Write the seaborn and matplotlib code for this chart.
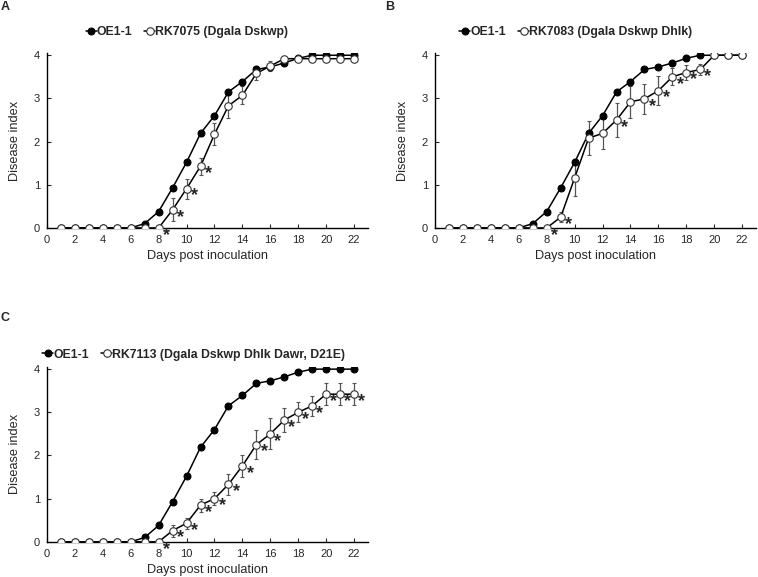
import numpy as np
import pandas as pd
import matplotlib
matplotlib.use("Agg")
import matplotlib.pyplot as plt
import seaborn as sns


DAYS = list(range(1, 23))

# OE1-1 (wild type), same in all three panels
OE_MEAN = [0, 0, 0, 0, 0, 0, 0.10, 0.38, 0.93, 1.52, 2.19, 2.60, 3.15, 3.39,
           3.67, 3.73, 3.82, 3.93, 4.0, 4.0, 4.0, 4.0]
OE_ERR = [0, 0, 0, 0, 0, 0, 0.03, 0.05, 0.04, 0.05, 0.06, 0.06, 0.05, 0.06,
          0.05, 0.04, 0.04, 0.03, 0, 0, 0, 0]

# panel A: RK7075
A_LABEL = "RK7075 (Dgala Dskwp)"
A_MEAN = [0, 0, 0, 0, 0, 0, 0, 0, 0.42, 0.91, 1.43, 2.17, 2.83, 3.07,
          3.58, 3.75, 3.92, 3.92, 3.92, 3.92, 3.92, 3.92]
A_ERR = [0, 0, 0, 0, 0, 0, 0, 0, 0.27, 0.23, 0.20, 0.26, 0.29, 0.21,
         0.16, 0.11, 0.03, 0, 0, 0, 0, 0]
A_STARS = [8, 9, 10, 11]

# panel B: RK7083
B_LABEL = "RK7083 (Dgala Dskwp Dhlk)"
B_MEAN = [0, 0, 0, 0, 0, 0, 0, 0, 0.25, 1.16, 2.08, 2.19, 2.50, 2.92,
          2.99, 3.18, 3.50, 3.60, 3.67, 4.0, 4.0, 4.0]
B_ERR = [0, 0, 0, 0, 0, 0, 0, 0, 0.12, 0.42, 0.40, 0.37, 0.40, 0.37,
         0.35, 0.33, 0.20, 0.17, 0.12, 0, 0, 0]
B_STARS = [8, 9, 13, 15, 16, 17, 18, 19]

# panel C: RK7113
C_LABEL = "RK7113 (Dgala Dskwp Dhlk Dawr, D21E)"
C_MEAN = [0, 0, 0, 0, 0, 0, 0, 0, 0.26, 0.43, 0.85, 1.00, 1.33, 1.76,
          2.25, 2.50, 2.82, 3.00, 3.15, 3.42, 3.42, 3.42]
C_ERR = [0, 0, 0, 0, 0, 0, 0, 0, 0.14, 0.13, 0.15, 0.15, 0.25, 0.25,
         0.33, 0.36, 0.28, 0.23, 0.23, 0.26, 0.26, 0.26]
C_STARS = [8, 9, 10, 11, 12, 13, 14, 15, 16, 17, 18, 19, 20, 21, 22]

X_TICKS = list(range(0, 23, 2))
Y_TICKS = [0, 1, 2, 3, 4]


def draw_panel(ax, label, mean, err, stars, legend_anchor):
    df = pd.DataFrame({"day": DAYS, "oe": OE_MEAN, "mut": mean})

    # error bars first so markers sit on top
    ax.errorbar(DAYS, OE_MEAN, yerr=OE_ERR, fmt="none", ecolor="#333333",
                elinewidth=0.8, capsize=1.6, capthick=0.8, zorder=2)
    ax.errorbar(DAYS, mean, yerr=err, fmt="none", ecolor="#555555",
                elinewidth=0.9, capsize=1.6, capthick=0.8, zorder=2)

    sns.lineplot(data=df, x="day", y="oe", ax=ax, color="black", lw=1.1,
                 marker="o", markersize=5, markerfacecolor="black",
                 markeredgecolor="black", label="OE1-1", zorder=3)
    sns.lineplot(data=df, x="day", y="mut", ax=ax, color="black", lw=1.1,
                 marker="o", markersize=5.4, markerfacecolor="white",
                 markeredgecolor="#333333", markeredgewidth=0.8,
                 label=label, zorder=4)

    for d in stars:
        v = mean[DAYS.index(d)]
        ax.text(d + 0.55, v - 0.17, "*", fontsize=13, fontweight="bold",
                ha="center", va="center")

    ax.set_xlim(0, 23)
    ax.set_ylim(0, 4.05)
    ax.set_xticks(X_TICKS)
    ax.set_yticks(Y_TICKS)
    ax.tick_params(direction="in", length=3, width=0.8, labelsize=8,
                   pad=5)
    ax.set_xlabel("Days post inoculation", fontsize=9.2, labelpad=4)
    ax.set_ylabel("Disease index", fontsize=9.2, labelpad=9)
    for side in ["top", "right"]:
        ax.spines[side].set_visible(False)
    for side in ["left", "bottom"]:
        ax.spines[side].set_linewidth(1.0)
        ax.spines[side].set_color("black")

    ax.legend(loc="center left", bbox_to_anchor=legend_anchor, ncol=2,
              frameon=False, handlelength=0.9, handletextpad=0.0,
              columnspacing=1.0, borderaxespad=0, borderpad=0,
              prop={"weight": "bold", "size": 8.8})


def main():
    sns.set_style("ticks")
    plt.rcParams["font.family"] = ["Liberation Sans", "DejaVu Sans"]

    fig = plt.figure(figsize=(7.58, 5.77), dpi=100)
    ax_a = fig.add_axes([0.062, 0.605, 0.4235, 0.303])
    ax_b = fig.add_axes([0.574, 0.605, 0.4235, 0.303])
    ax_c = fig.add_axes([0.062, 0.061, 0.4235, 0.303])

    draw_panel(ax_a, A_LABEL, A_MEAN, A_ERR, A_STARS, (0.12, 1.12))
    draw_panel(ax_b, B_LABEL, B_MEAN, B_ERR, B_STARS, (0.075, 1.12))
    draw_panel(ax_c, C_LABEL, C_MEAN, C_ERR, C_STARS, (-0.015, 1.07))

    for letter, x, y in [("A", 5, 7), ("B", 390, 7), ("C", 5, 318)]:
        fig.text(x / 758, 1 - y / 577, letter, fontsize=9,
                 fontweight="bold", ha="center", va="center")

    fig.savefig("out.png", dpi=100, facecolor="white")
    plt.close(fig)


if __name__ == "__main__":
    main()
